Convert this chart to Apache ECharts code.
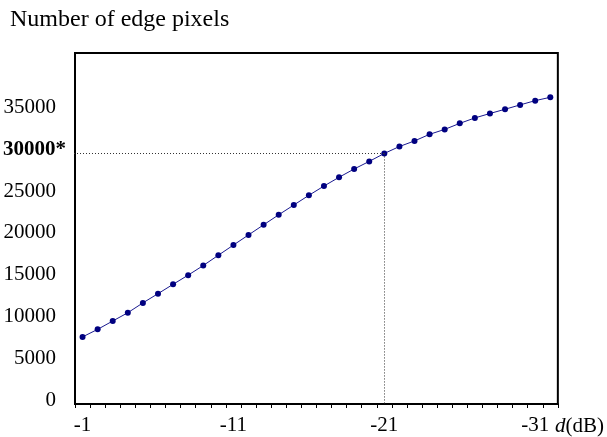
<!DOCTYPE html>
<html>
<head>
<meta charset="utf-8">
<script src="https://cdn.jsdelivr.net/npm/echarts@6/dist/echarts.min.js"></script>
<style>
html,body{margin:0;padding:0;background:#fff;}
#chart{width:607px;height:437px;}
</style>
</head>
<body>
<div id="chart"></div>
<script>
// Data
const categories = ['-1','-2','-3','-4','-5','-6','-7','-8','-9','-10','-11','-12','-13','-14','-15','-16',
                    '-17','-18','-19','-20','-21','-22','-23','-24','-25','-26','-27','-28','-29','-30','-31','-32'];
const edgePixels = [8030, 8930, 9930, 10920, 12100, 13200, 14320, 15420, 16570, 17800, 19020, 20230,
                    21440, 22640, 23810, 24970, 26080, 27130, 28120, 29030, 29980, 30810, 31480, 32270,
                    32860, 33580, 34230, 34760, 35270, 35790, 36300, 36700];
const yTicks = [0, 5000, 10000, 15000, 20000, 25000, 30000, 35000];
const markedTick = 30000;
const markedIndex = 20;
const titleText = 'Number of edge pixels';
const xName = 'd';
const xUnit = '(dB)';

const FONT = 'Liberation Serif';
const chart = echarts.init(document.getElementById('chart'), null, {renderer: 'canvas'});

chart.setOption({
  animation: false,
  backgroundColor: '#fff',
  title: {
    text: titleText,
    left: 10, top: 8, padding: 0,
    textStyle: {fontFamily: FONT, fontSize: 24, fontWeight: 'normal', color: '#000'}
  },
  grid: {left: 74, right: 48, top: 53, bottom: 30, show: true, borderColor: '#000', borderWidth: 2},
  xAxis: {
    type: 'category',
    data: categories,
    boundaryGap: true,
    name: '{i|' + xName + '}' + xUnit,
    nameLocation: 'end',
    nameGap: -4,
    nameTextStyle: {
      fontFamily: FONT, fontSize: 21, color: '#000', align: 'left', verticalAlign: 'top',
      padding: [12, 0, 0, 0],
      rich: {i: {fontFamily: FONT, fontSize: 21, fontStyle: 'italic', color: '#000'}}
    },
    axisLine: {lineStyle: {color: '#000', width: 2}},
    axisTick: {show: true, interval: 0, length: 4, lineStyle: {color: '#000', width: 1}},
    axisLabel: {interval: 9, margin: 11, fontFamily: FONT, fontSize: 21, color: '#000'},
    splitLine: {show: false}
  },
  yAxis: {
    type: 'value',
    min: 0, max: 42000, interval: 5000,
    axisLine: {show: true, lineStyle: {color: '#000', width: 2}},
    axisTick: {show: false},
    splitLine: {show: false},
    axisLabel: {
      margin: 9,
      padding: [0, 0, 8, 0],
      fontFamily: FONT, fontSize: 21, color: '#000',
      formatter: function (v) {
        if (yTicks.indexOf(v) < 0) return '';
        if (v === markedTick) return '{b|' + v + '*}';
        return '{n|' + v + '}';
      },
      rich: {
        n: {fontFamily: FONT, fontSize: 21, color: '#000', padding: [0, 10, 0, 0]},
        b: {fontFamily: FONT, fontSize: 21, color: '#000', fontWeight: 'bold'}
      }
    }
  },
  series: [{
    type: 'line',
    data: edgePixels,
    symbol: 'circle',
    symbolSize: 6,
    showSymbol: true,
    lineStyle: {color: '#1a1a90', width: 1},
    itemStyle: {color: '#000080'},
    markLine: {
      silent: true,
      symbol: ['none', 'none'],
      label: {show: false},
      lineStyle: {type: [1, 2], color: '#333', width: 1},
      data: [
        [{coord: [markedIndex, edgePixels[markedIndex]], x: 74}, {coord: [markedIndex, edgePixels[markedIndex]]}],
        [{coord: [markedIndex, edgePixels[markedIndex]]}, {coord: [markedIndex, 0]}]
      ]
    }
  }]
});
</script>
</body>
</html>
